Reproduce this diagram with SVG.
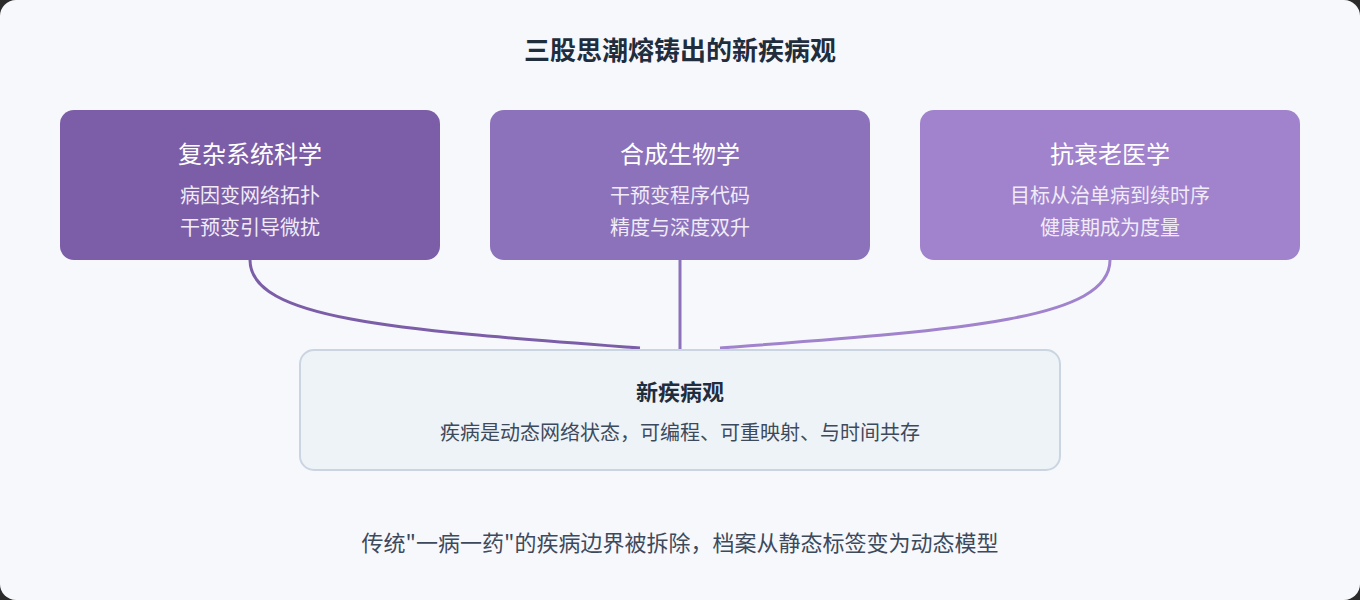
<svg xmlns="http://www.w3.org/2000/svg" width="1360" height="600" viewBox="0 0 1360 600">
<style>
text{font-family:"Noto Sans CJK SC","Noto Sans",sans-serif;text-anchor:middle}
.t{font-size:24px;fill:#fff}
.s{font-size:20px;fill:#f1ebf8}
.c{fill:none;stroke-width:3}
</style>
<rect x="0" y="0" width="1360" height="600" fill="#2b2b2b"/>
<rect x="0" y="0" width="1360" height="600" rx="16" fill="#f7f8fc"/>
<text x="680" y="60" style="font-size:26px;font-weight:bold;fill:#1f2d3d">三股思潮熔铸出的新疾病观</text>
<g id="connectors">
<path class="c" d="M250 260 C250 320 400 330 640 348" stroke="#7b5ea7"/>
<path class="c" d="M680 260 L680 350" stroke="#8b72bb"/>
<path class="c" d="M1110 260 C1110 320 960 330 720 348" stroke="#a083cc"/>
</g>
<g id="n1"><rect x="60" y="110" width="380" height="150" rx="14" fill="#7b5ea7"/>
<text class="t" x="250" y="163">复杂系统科学</text><text class="s" x="250" y="203">病因变网络拓扑</text><text class="s" x="250" y="235">干预变引导微扰</text></g>
<g id="n2"><rect x="490" y="110" width="380" height="150" rx="14" fill="#8b72bb"/>
<text class="t" x="680" y="163">合成生物学</text><text class="s" x="680" y="203">干预变程序代码</text><text class="s" x="680" y="235">精度与深度双升</text></g>
<g id="n3"><rect x="920" y="110" width="380" height="150" rx="14" fill="#a083cc"/>
<text class="t" x="1110" y="163">抗衰老医学</text><text class="s" x="1110" y="203">目标从治单病到续时序</text><text class="s" x="1110" y="235">健康期成为度量</text></g>
<g id="n4"><rect x="300" y="350" width="760" height="120" rx="14" fill="#eef3f7" stroke="#cbd5e1" stroke-width="2"/>
<text x="680" y="400" style="font-size:22px;font-weight:bold;fill:#1f2d3d">新疾病观</text>
<text x="680" y="440" style="font-size:20px;fill:#3d4a5c">疾病是动态网络状态，可编程、可重映射、与时间共存</text></g>
<text x="680" y="551" style="font-size:22px;fill:#3d4a5c">传统"一病一药"的疾病边界被拆除，档案从静态标签变为动态模型</text>
</svg>
